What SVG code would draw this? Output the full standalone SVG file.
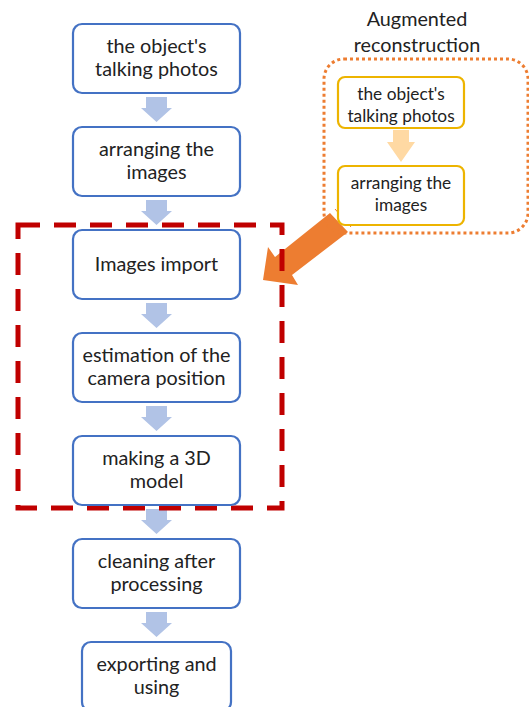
<svg xmlns="http://www.w3.org/2000/svg" width="529" height="707" viewBox="0 0 529 707">
<style>
.box{fill:#fff;stroke:#4472C4;stroke-width:2.2}
.ybox{fill:#fff;stroke:#EDB400;stroke-width:2.2}
.t{font-family:Lato,"Liberation Sans",sans-serif;font-size:19.8px;fill:#222;text-anchor:middle}
.ts{font-family:Lato,"Liberation Sans",sans-serif;font-size:17.3px;fill:#222;text-anchor:middle}
.arr{fill:#B1C3E6}
</style>
<defs>
<path id="da" d="M-10.5,0 h21 v11 h5 l-15.5,14 l-15.5,-14 h5 z"/>
</defs>
<rect width="529" height="707" fill="#fff"/>
<g id="connectors">
<use href="#da" class="arr" x="156.5" y="97"/>
<use href="#da" class="arr" x="156.5" y="200"/>
<use href="#da" class="arr" x="156.5" y="303"/>
<use href="#da" class="arr" x="156.5" y="406"/>
<use href="#da" class="arr" x="156.5" y="509"/>
<use href="#da" class="arr" x="156.5" y="612"/>
<path d="M393,130 h16 v12 h6 l-14,20 l-14,-20 h6 z" fill="#FFD9A3"/>
<polygon points="330,213 348,232 292,275 298,285 263,280 268,247 275,257" fill="#ED7D31"/>
<line x1="335" y1="209" x2="351" y2="227" stroke="#ED7D31" stroke-width="1"/>
</g>
<g id="group-main">
<rect x="18" y="225" width="264" height="283" fill="none" stroke="#C00000" stroke-width="5" stroke-dasharray="22,14"/>
</g>
<g id="group-augmented">
<rect x="324" y="59" width="204" height="174" rx="20" fill="none" stroke="#ED7D31" stroke-width="3" stroke-dasharray="3,3"/>
<text class="t" x="417" y="26">Augmented</text>
<text class="t" x="417" y="52">reconstruction</text>
</g>
<g id="n1"><rect class="box" x="73" y="24" width="167" height="69" rx="9"/>
<text class="t" x="156.5" y="53">the object's</text><text class="t" x="156.5" y="76">talking photos</text></g>
<g id="n2"><rect class="box" x="73" y="127" width="167" height="69" rx="9"/>
<text class="t" x="156.5" y="156">arranging the</text><text class="t" x="156.5" y="179">images</text></g>
<g id="n3"><rect class="box" x="73" y="230" width="167" height="69" rx="9"/>
<text class="t" x="156.5" y="271">Images import</text></g>
<g id="n4"><rect class="box" x="73" y="333" width="167" height="69" rx="9"/>
<text class="t" x="156.5" y="362">estimation of the</text><text class="t" x="156.5" y="385">camera position</text></g>
<g id="n5"><rect class="box" x="73" y="436" width="167" height="69" rx="9"/>
<text class="t" x="156.5" y="465">making a 3D</text><text class="t" x="156.5" y="488">model</text></g>
<g id="n6"><rect class="box" x="73" y="539" width="167" height="69" rx="9"/>
<text class="t" x="156.5" y="568">cleaning after</text><text class="t" x="156.5" y="591">processing</text></g>
<g id="n7"><rect class="box" x="82" y="642" width="149" height="69" rx="9"/>
<text class="t" x="156.5" y="671">exporting and</text><text class="t" x="156.5" y="694">using</text></g>
<g id="a1"><rect class="ybox" x="338" y="77" width="126" height="51" rx="7"/>
<text class="ts" x="401" y="100">the object's</text><text class="ts" x="401" y="122">talking photos</text></g>
<g id="a2"><rect class="ybox" x="338" y="166" width="126" height="59" rx="7"/>
<text class="ts" x="401" y="189">arranging the</text><text class="ts" x="401" y="211">images</text></g>
</svg>
